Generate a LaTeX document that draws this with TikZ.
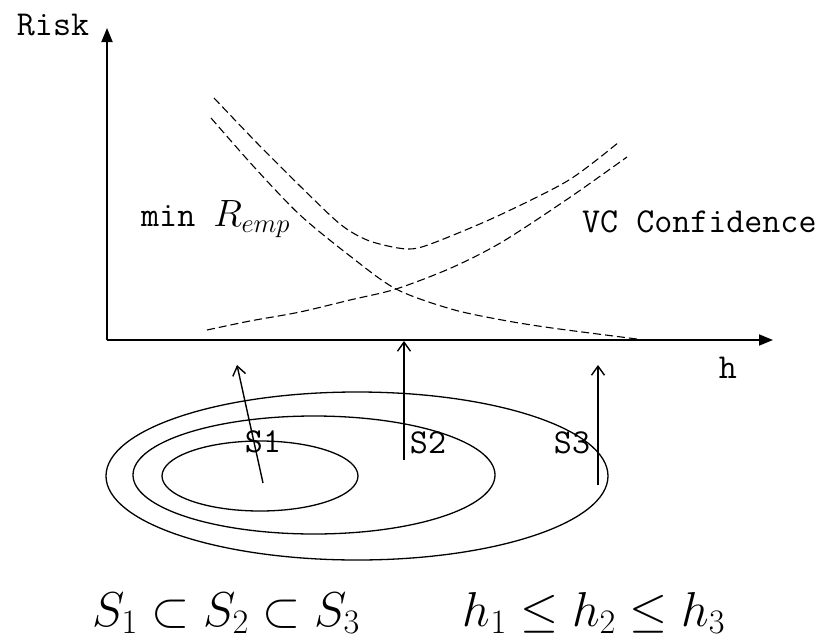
\RequirePackage{fix-cm}
\documentclass[tikz,border=0pt]{standalone}
\usepackage{fontspec}
\usetikzlibrary{arrows.meta}

\begin{document}
\begin{tikzpicture}[
  x=1pt, y=-1pt,
  axis/.style={line width=1.8pt, -{Triangle[length=14pt,width=11pt]}},
  curve/.style={line width=1.1pt, dash pattern=on 8pt off 4pt},
  set/.style={line width=1.3pt},
  up/.style={line width=1.4pt, -{Straight Barb[length=9pt,width=13pt]}},
  lbl/.style={font=\ttfamily\fontsize{35}{37}\selectfont, inner sep=0pt},
  formula/.style={font=\fontsize{49}{51}\selectfont, inner sep=0pt},
]
\useasboundingbox (0,0) rectangle (828,643);

\def\base{340}

\coordinate (origin) at (107,\base);
\coordinate (ytip)   at (107,28);
\coordinate (xtip)   at (773,\base);
\draw[axis] (origin) -- (ytip);
\draw[axis] (origin) -- (xtip);

\node[lbl] (risk)  at (53,25)   {Risk};
\node[lbl] (haxis) at (728,368) {h};

\draw[curve] plot[smooth] coordinates {(214,98) (257,143) (300,186) (340,224)
  (367,240) (398,248) (418,248) (451,236) (502,214) (569,180) (619,142)};
\draw[curve] plot[smooth] coordinates {(211,118) (255,168) (300,215) (350,256)
  (396,289) (451,309) (502,320) (552,328) (637,339)};
\draw[curve] plot[smooth] coordinates {(207,330) (250,321) (300,312) (350,300)
  (396,289) (451,268) (502,242) (569,198) (627,157)};

\node[lbl, anchor=west] (emp) at (141,219) {min {\fontsize{38}{40}\selectfont$R_{emp}$}};
\node[lbl, anchor=west] (vc)  at (582,222) {VC Confidence};

\draw[set] (357,476) ellipse [x radius=251pt, y radius=84pt];
\draw[set] (314,475) ellipse [x radius=181pt, y radius=59pt];
\draw[set] (260,476) ellipse [x radius=98pt,  y radius=35pt];

\coordinate (s1tail) at (263,483);
\coordinate (s1tip)  at (237,365);
\coordinate (s2tail) at (404,460);
\coordinate (s2tip)  at (404,341);
\coordinate (s3tail) at (598,485);
\coordinate (s3tip)  at (598,365);
\draw[up] (s1tail) -- (s1tip);
\draw[up] (s2tail) -- (s2tip);
\draw[up] (s3tail) -- (s3tip);

\node[lbl] (s1) at (263,442) {S1};
\node[lbl] (s2) at (428,443) {S2};
\node[lbl] (s3) at (572,443) {S3};

\node[formula] (subsets) at (226,613) {$S_1 \subset S_2 \subset S_3$};
\node[formula] (orders)  at (594,613) {$h_1 \le h_2 \le h_3$};

\end{tikzpicture}
\end{document}
